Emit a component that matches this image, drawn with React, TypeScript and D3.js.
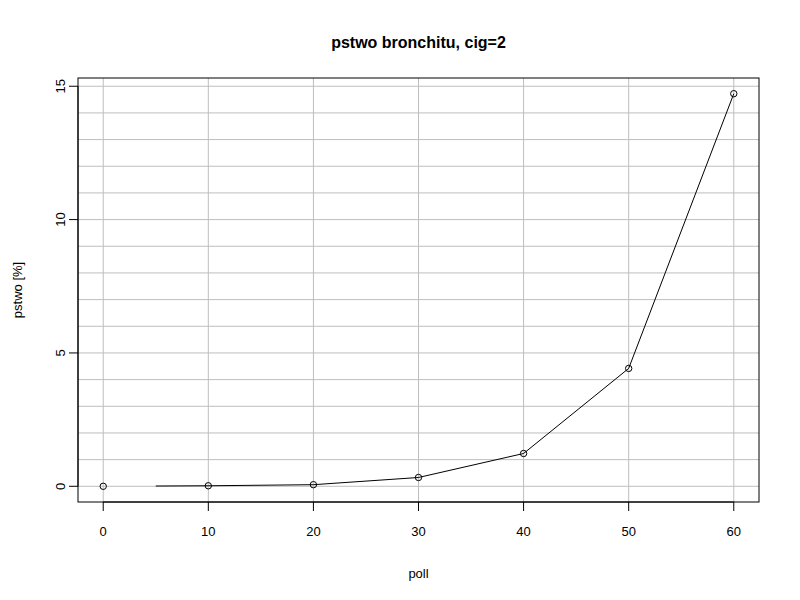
import React, { useEffect, useRef } from "react";
import * as d3 from "d3";

// points drawn as circles
const pointX = [0, 10, 20, 30, 40, 50, 60];
const pointY = [0, 0.02, 0.06, 0.33, 1.23, 4.42, 14.72];
// the line starts at poll=5
const lineX = [5, 10, 20, 30, 40, 50, 60];
const lineY = [0.01, 0.02, 0.06, 0.33, 1.23, 4.42, 14.72];

const xTicks = [0, 10, 20, 30, 40, 50, 60];
const yTicks = [0, 5, 10, 15];
const yGrid = d3.range(0, 16);

const title = "pstwo bronchitu, cig=2";
const xLabel = "poll";
const yLabel = "pstwo [%]";

export default function App() {
  const ref = useRef<SVGSVGElement>(null);

  useEffect(() => {
    const svg = d3.select(ref.current);
    svg.selectAll("*").remove();

    const left = 78, right = 759, top = 78, bottom = 502;
    const font = "Liberation Sans, Arial, sans-serif";

    // R-style 4% padding around data range
    const xe = d3.extent(pointX) as [number, number];
    const ye = d3.extent(pointY) as [number, number];
    const xp = (xe[1] - xe[0]) * 0.04;
    const yp = (ye[1] - ye[0]) * 0.04;
    const x = d3.scaleLinear().domain([xe[0] - xp, xe[1] + xp]).range([left, right]);
    const y = d3.scaleLinear().domain([ye[0] - yp, ye[1] + yp]).range([bottom, top]);

    const g = svg.append("g");

    // grid
    g.selectAll(".vg")
      .data(xTicks)
      .join("line")
      .attr("x1", (d) => x(d)).attr("x2", (d) => x(d))
      .attr("y1", top).attr("y2", bottom)
      .attr("stroke", "#bebebe").attr("stroke-width", 1);
    g.selectAll(".hg")
      .data(yGrid)
      .join("line")
      .attr("x1", left).attr("x2", right)
      .attr("y1", (d) => y(d)).attr("y2", (d) => y(d))
      .attr("stroke", "#bebebe").attr("stroke-width", 1);

    // line
    g.append("path")
      .datum(lineX.map((v, i) => [v, lineY[i]] as [number, number]))
      .attr("fill", "none")
      .attr("stroke", "black")
      .attr("stroke-width", 1)
      .attr("d", d3.line<[number, number]>().x((d) => x(d[0])).y((d) => y(d[1])));

    // points
    g.selectAll("circle")
      .data(pointX.map((v, i) => [v, pointY[i]]))
      .join("circle")
      .attr("cx", (d) => x(d[0]))
      .attr("cy", (d) => y(d[1]))
      .attr("r", 3.2)
      .attr("fill", "none")
      .attr("stroke", "black")
      .attr("stroke-width", 1);

    // box
    g.append("rect")
      .attr("x", left).attr("y", top)
      .attr("width", right - left).attr("height", bottom - top)
      .attr("fill", "none").attr("stroke", "black").attr("stroke-width", 1);

    // x axis
    const xa = g.append("g").attr("transform", `translate(0,${bottom})`);
    xa.append("line")
      .attr("x1", x(xTicks[0])).attr("x2", x(xTicks[xTicks.length - 1]))
      .attr("y1", 0).attr("y2", 0).attr("stroke", "black");
    xa.selectAll("line.t")
      .data(xTicks)
      .join("line")
      .attr("class", "t")
      .attr("x1", (d) => x(d)).attr("x2", (d) => x(d))
      .attr("y1", 0).attr("y2", 9).attr("stroke", "black");
    xa.selectAll("text")
      .data(xTicks)
      .join("text")
      .attr("x", (d) => x(d))
      .attr("y", 34)
      .attr("text-anchor", "middle")
      .attr("font-family", font)
      .attr("font-size", 13)
      .text((d) => d);

    // y axis
    const ya = g.append("g").attr("transform", `translate(${left},0)`);
    ya.append("line")
      .attr("x1", 0).attr("x2", 0)
      .attr("y1", y(yTicks[0])).attr("y2", y(yTicks[yTicks.length - 1]))
      .attr("stroke", "black");
    ya.selectAll("line.t")
      .data(yTicks)
      .join("line")
      .attr("class", "t")
      .attr("x1", -9).attr("x2", 0)
      .attr("y1", (d) => y(d)).attr("y2", (d) => y(d)).attr("stroke", "black");
    ya.selectAll("text")
      .data(yTicks)
      .join("text")
      .attr("transform", (d) => `translate(-13,${y(d)}) rotate(-90)`)
      .attr("text-anchor", "middle")
      .attr("font-family", font)
      .attr("font-size", 13)
      .text((d) => d);

    // labels
    svg.append("text")
      .attr("x", (left + right) / 2).attr("y", 48)
      .attr("text-anchor", "middle")
      .attr("font-family", font).attr("font-size", 16).attr("font-weight", "bold")
      .text(title);
    svg.append("text")
      .attr("x", (left + right) / 2).attr("y", 578)
      .attr("text-anchor", "middle")
      .attr("font-family", font).attr("font-size", 13)
      .text(xLabel);
    svg.append("text")
      .attr("transform", `translate(22,${(top + bottom) / 2}) rotate(-90)`)
      .attr("text-anchor", "middle")
      .attr("font-family", font).attr("font-size", 13)
      .text(yLabel);
  }, []);

  return (
    <svg
      ref={ref}
      width={800}
      height={600}
      style={{ position: "absolute", left: 0, top: 0, background: "white" }}
    />
  );
}
